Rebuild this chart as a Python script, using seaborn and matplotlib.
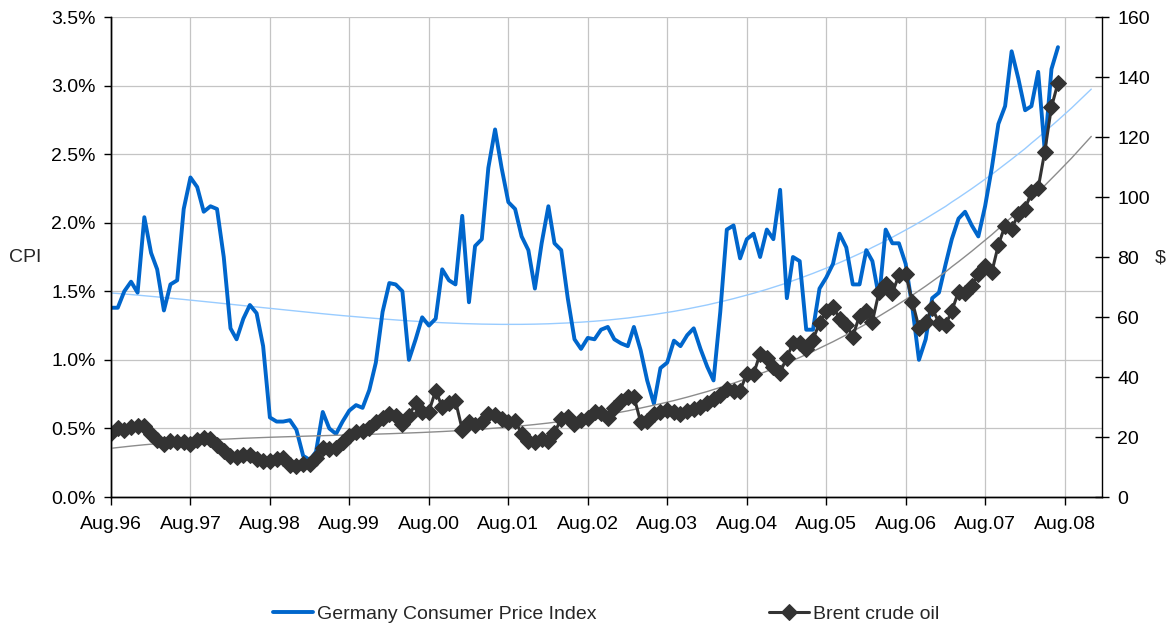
import matplotlib
matplotlib.use('Agg')
import matplotlib.pyplot as plt
import matplotlib.dates as mdates
from matplotlib.ticker import FuncFormatter, MultipleLocator
import numpy as np
import pandas as pd
import seaborn as sns

# Monthly values, Aug 1996 .. Jul 2008
cpi = [1.38, 1.38, 1.50, 1.57, 1.49, 2.04, 1.78, 1.66, 1.36, 1.55, 1.58, 2.10,
       2.33, 2.26, 2.08, 2.12, 2.10, 1.75, 1.23, 1.15, 1.30, 1.40, 1.34, 1.10,
       0.58, 0.55, 0.55, 0.56, 0.49, 0.30, 0.27, 0.33, 0.62, 0.50, 0.46, 0.55,
       0.63, 0.67, 0.65, 0.78, 0.98, 1.35, 1.56, 1.55, 1.50, 1.00, 1.15, 1.31,
       1.25, 1.30, 1.66, 1.58, 1.55, 2.05, 1.42, 1.83, 1.88, 2.40, 2.68, 2.40,
       2.15, 2.10, 1.90, 1.80, 1.52, 1.85, 2.12, 1.85, 1.80, 1.45, 1.15, 1.08,
       1.16, 1.15, 1.22, 1.24, 1.15, 1.12, 1.10, 1.24, 1.07, 0.85, 0.68, 0.94,
       0.98, 1.14, 1.10, 1.18, 1.23, 1.08, 0.95, 0.85, 1.35, 1.95, 1.98, 1.74,
       1.88, 1.92, 1.75, 1.95, 1.88, 2.24, 1.45, 1.75, 1.72, 1.22, 1.22, 1.52,
       1.60, 1.70, 1.92, 1.82, 1.55, 1.55, 1.80, 1.72, 1.45, 1.95, 1.85, 1.85,
       1.70, 1.38, 1.00, 1.15, 1.45, 1.49, 1.70, 1.88, 2.03, 2.08, 1.98, 1.90,
       2.12, 2.40, 2.72, 2.85, 3.25, 3.05, 2.82, 2.85, 3.10, 2.53, 3.12, 3.28]

brent = [21.3, 23.0, 22.5, 23.3, 23.7, 23.7, 21.0, 19.0, 17.8, 18.7, 18.3, 18.2,
         17.8, 19.0, 19.8, 19.3, 17.5, 15.3, 13.8, 13.5, 14.0, 14.0, 12.8, 12.0,
         12.0, 12.8, 13.0, 10.8, 10.3, 11.0, 11.0, 13.0, 16.3, 16.0, 16.5, 18.5,
         20.5, 21.8, 22.0, 23.0, 25.0, 26.2, 27.8, 27.0, 24.2, 27.0, 31.3, 28.5,
         28.5, 35.5, 30.0, 31.5, 32.0, 22.5, 25.0, 24.0, 25.0, 27.8, 27.5, 26.0,
         25.0, 25.5, 21.0, 18.8, 18.5, 19.3, 18.8, 21.5, 26.0, 26.8, 24.5, 25.8,
         26.5, 28.2, 28.0, 26.5, 29.8, 32.0, 33.2, 33.5, 25.0, 25.5, 27.8, 28.2,
         29.0, 28.5, 27.8, 28.6, 29.4, 29.9, 31.5, 32.8, 34.0, 36.0, 35.5, 35.5,
         41.0, 41.0, 47.8, 46.5, 43.5, 41.5, 46.5, 51.3, 51.5, 49.5, 52.5, 58.0,
         62.0, 63.5, 59.5, 57.5, 53.5, 60.5, 62.0, 58.5, 68.5, 71.0, 68.0, 74.0,
         74.5, 65.0, 56.5, 58.5, 63.0, 58.0, 57.5, 62.0, 68.5, 68.0, 70.5, 74.5,
         77.0, 75.0, 84.0, 90.5, 89.5, 94.2, 96.0, 101.7, 103.0, 115.0, 130.0, 138.0]

months = pd.date_range('1996-08-01', periods=len(cpi), freq='MS')
df = pd.DataFrame({'month': months, 'cpi': cpi, 'brent': brent})

# polynomial trend lines, carried a few months past the data (as Excel does)
idx = np.arange(len(cpi))
t_idx = np.arange(len(cpi) + 5)
t_months = pd.date_range('1996-08-01', periods=len(t_idx), freq='MS')
cpi_trend = np.polyval(np.polyfit(idx, cpi, 3), t_idx)
brent_trend = np.polyval(np.polyfit(idx, brent, 3), t_idx)

sns.set_style('white')
plt.rcParams['font.family'] = ['Liberation Sans', 'DejaVu Sans']
FS = 14

fig = plt.figure(figsize=(11.75, 6.25), dpi=100)
ax = fig.add_axes([0.0945, 0.2048, 0.8435, 0.768])
ax2 = ax.twinx()

sns.lineplot(x=t_months, y=cpi_trend, ax=ax, color='#99ccff', linewidth=1.0)
sns.lineplot(data=df, x='month', y='cpi', ax=ax, color='#0066cc', linewidth=2.8,
             label='Germany Consumer Price Index', legend=False)
sns.lineplot(x=t_months, y=brent_trend, ax=ax2, color='#8c8c8c', linewidth=1.0)
sns.lineplot(data=df, x='month', y='brent', ax=ax2, color='#333333', linewidth=2.2,
             marker='D', markersize=8.5, markeredgecolor='#333333',
             label='Brent crude oil', legend=False)

ax.set_ylim(0, 3.5)
ax2.set_ylim(0, 160)
ax.yaxis.set_major_locator(MultipleLocator(0.5))
ax2.yaxis.set_major_locator(MultipleLocator(20))
ax.yaxis.set_major_formatter(FuncFormatter(lambda v, p: f'{v:.1f}%'))
ax.set_xlim(pd.Timestamp('1996-08-01'), pd.Timestamp('2009-01-20'))
ax.xaxis.set_major_locator(mdates.MonthLocator(bymonth=8, bymonthday=1))
ax.xaxis.set_major_formatter(mdates.DateFormatter('Aug.%y'))

ax.grid(True, color='#c4c4c4', linewidth=0.9)
ax2.grid(False)
for a in (ax, ax2):
    a.spines['top'].set_visible(False)
    for s in ('left', 'bottom', 'right'):
        a.spines[s].set_color('black')
        a.spines[s].set_linewidth(1.0)
ax.spines['right'].set_visible(False)

ax.tick_params(axis='y', left=True, length=5, width=1, pad=6, labelsize=FS, colors='black')
ax.tick_params(axis='x', bottom=True, length=6, width=1, pad=8, labelsize=FS, colors='black')
ax2.tick_params(axis='y', right=True, direction='inout', length=10, width=1, pad=6,
                labelsize=FS, colors='black')

ax.set_xlabel('')
ax.set_ylabel('CPI', rotation=0, fontsize=FS, va='center', ha='center')
ax.yaxis.set_label_coords(-0.087, 0.498)
ax2.set_ylabel('$', rotation=0, fontsize=FS, va='center', ha='center')
ax2.yaxis.set_label_coords(1.059, 0.498)

h1, l1 = ax.get_legend_handles_labels()
h2, l2 = ax2.get_legend_handles_labels()
fig.legend(h1 + h2, l1 + l2, loc='center', bbox_to_anchor=(0.516, 0.017), ncol=2,
           frameon=False, fontsize=FS, handlelength=2.05, handletextpad=0.2,
           columnspacing=8.9)

fig.savefig('out.png', dpi=100)
